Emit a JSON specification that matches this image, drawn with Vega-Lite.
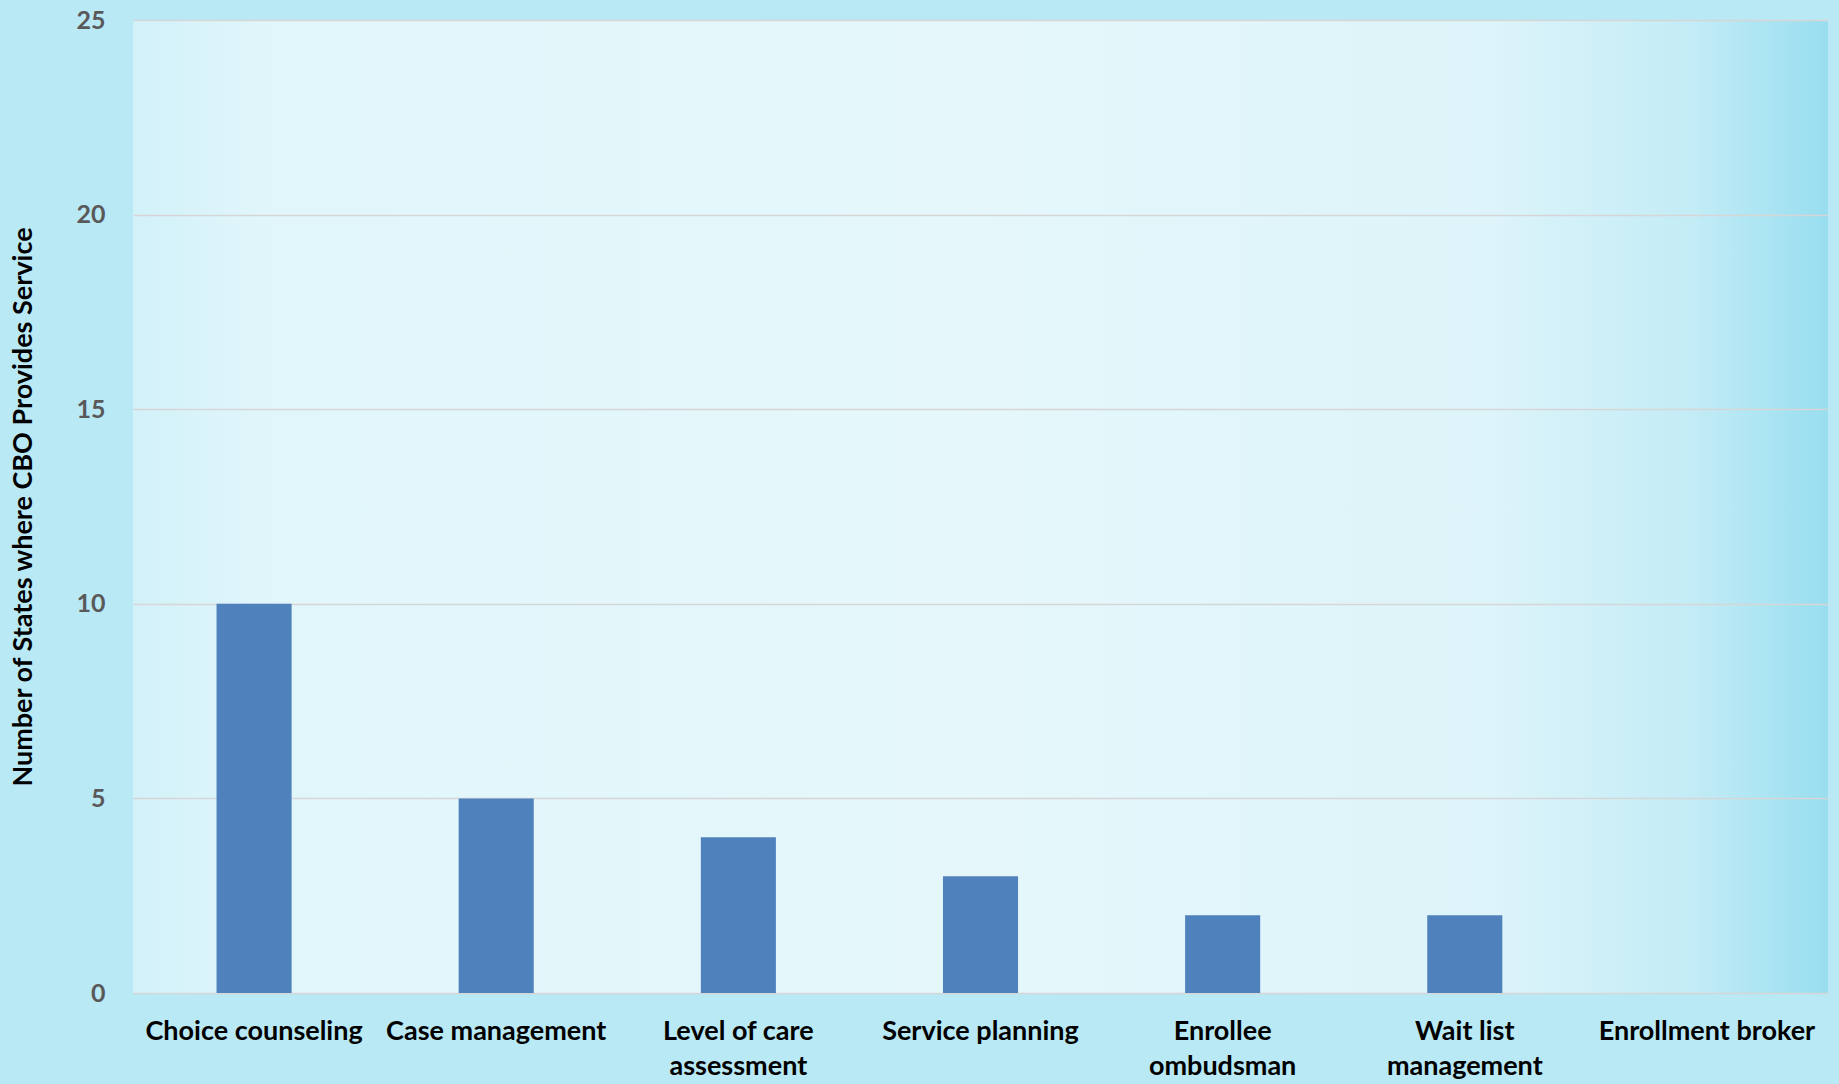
{
  "$schema": "https://vega.github.io/schema/vega-lite/v6.json",
  "width": 1695,
  "height": 973,
  "autosize": {"type": "none"},
  "padding": {"left": 133, "top": 20, "right": 11, "bottom": 91},
  "background": "#b9e9f5",
  "config": {
    "view": {
      "stroke": null,
      "fill": {
        "gradient": "linear",
        "x1": 0, "y1": 0, "x2": 1, "y2": 0,
        "stops": [
          {"offset": 0, "color": "#d2f1f9"},
          {"offset": 0.08, "color": "#e1f6fb"},
          {"offset": 0.5, "color": "#e5f7fb"},
          {"offset": 0.8, "color": "#ddf4fa"},
          {"offset": 0.92, "color": "#c3ecf6"},
          {"offset": 1, "color": "#98def0"}
        ]
      }
    },
    "font": "Lato"
  },
  "data": {
    "values": [
      {"service": "Choice counseling", "states": 10},
      {"service": "Case management", "states": 5},
      {"service": "Level of care assessment", "states": 4},
      {"service": "Service planning", "states": 3},
      {"service": "Enrollee ombudsman", "states": 2},
      {"service": "Wait list management", "states": 2},
      {"service": "Enrollment broker", "states": 0}
    ]
  },
  "mark": {"type": "bar", "color": "#4f81bd"},
  "encoding": {
    "x": {
      "field": "service",
      "type": "nominal",
      "sort": null,
      "scale": {"paddingInner": 0.69, "paddingOuter": 0.345},
      "axis": {
        "title": null,
        "labelAngle": 0,
        "domain": false,
        "ticks": false,
        "labelFont": "Lato",
        "labelFontSize": 27,
        "labelFontWeight": "bold",
        "labelColor": "#000000",
        "labelPadding": 25,
        "labelLineHeight": 35,
        "labelLimit": 400,
        "labelExpr": "datum.label == 'Level of care assessment' ? ['Level of care', 'assessment'] : datum.label == 'Enrollee ombudsman' ? ['Enrollee', 'ombudsman'] : datum.label == 'Wait list management' ? ['Wait list', 'management'] : datum.label"
      }
    },
    "y": {
      "field": "states",
      "type": "quantitative",
      "scale": {"domain": [0, 25]},
      "axis": {
        "title": "Number of States where CBO Provides Service",
        "titleFont": "Lato",
        "titleFontSize": 27,
        "titleFontWeight": "bold",
        "titleColor": "#000000",
        "titlePadding": 38,
        "values": [0, 5, 10, 15, 20, 25],
        "domain": false,
        "ticks": false,
        "grid": true,
        "gridColor": "#d6d6d6",
        "gridWidth": 1.5,
        "labelFont": "Lato",
        "labelFontSize": 25,
        "labelFontWeight": "bold",
        "labelColor": "#595959",
        "labelPadding": 28
      }
    }
  }
}
